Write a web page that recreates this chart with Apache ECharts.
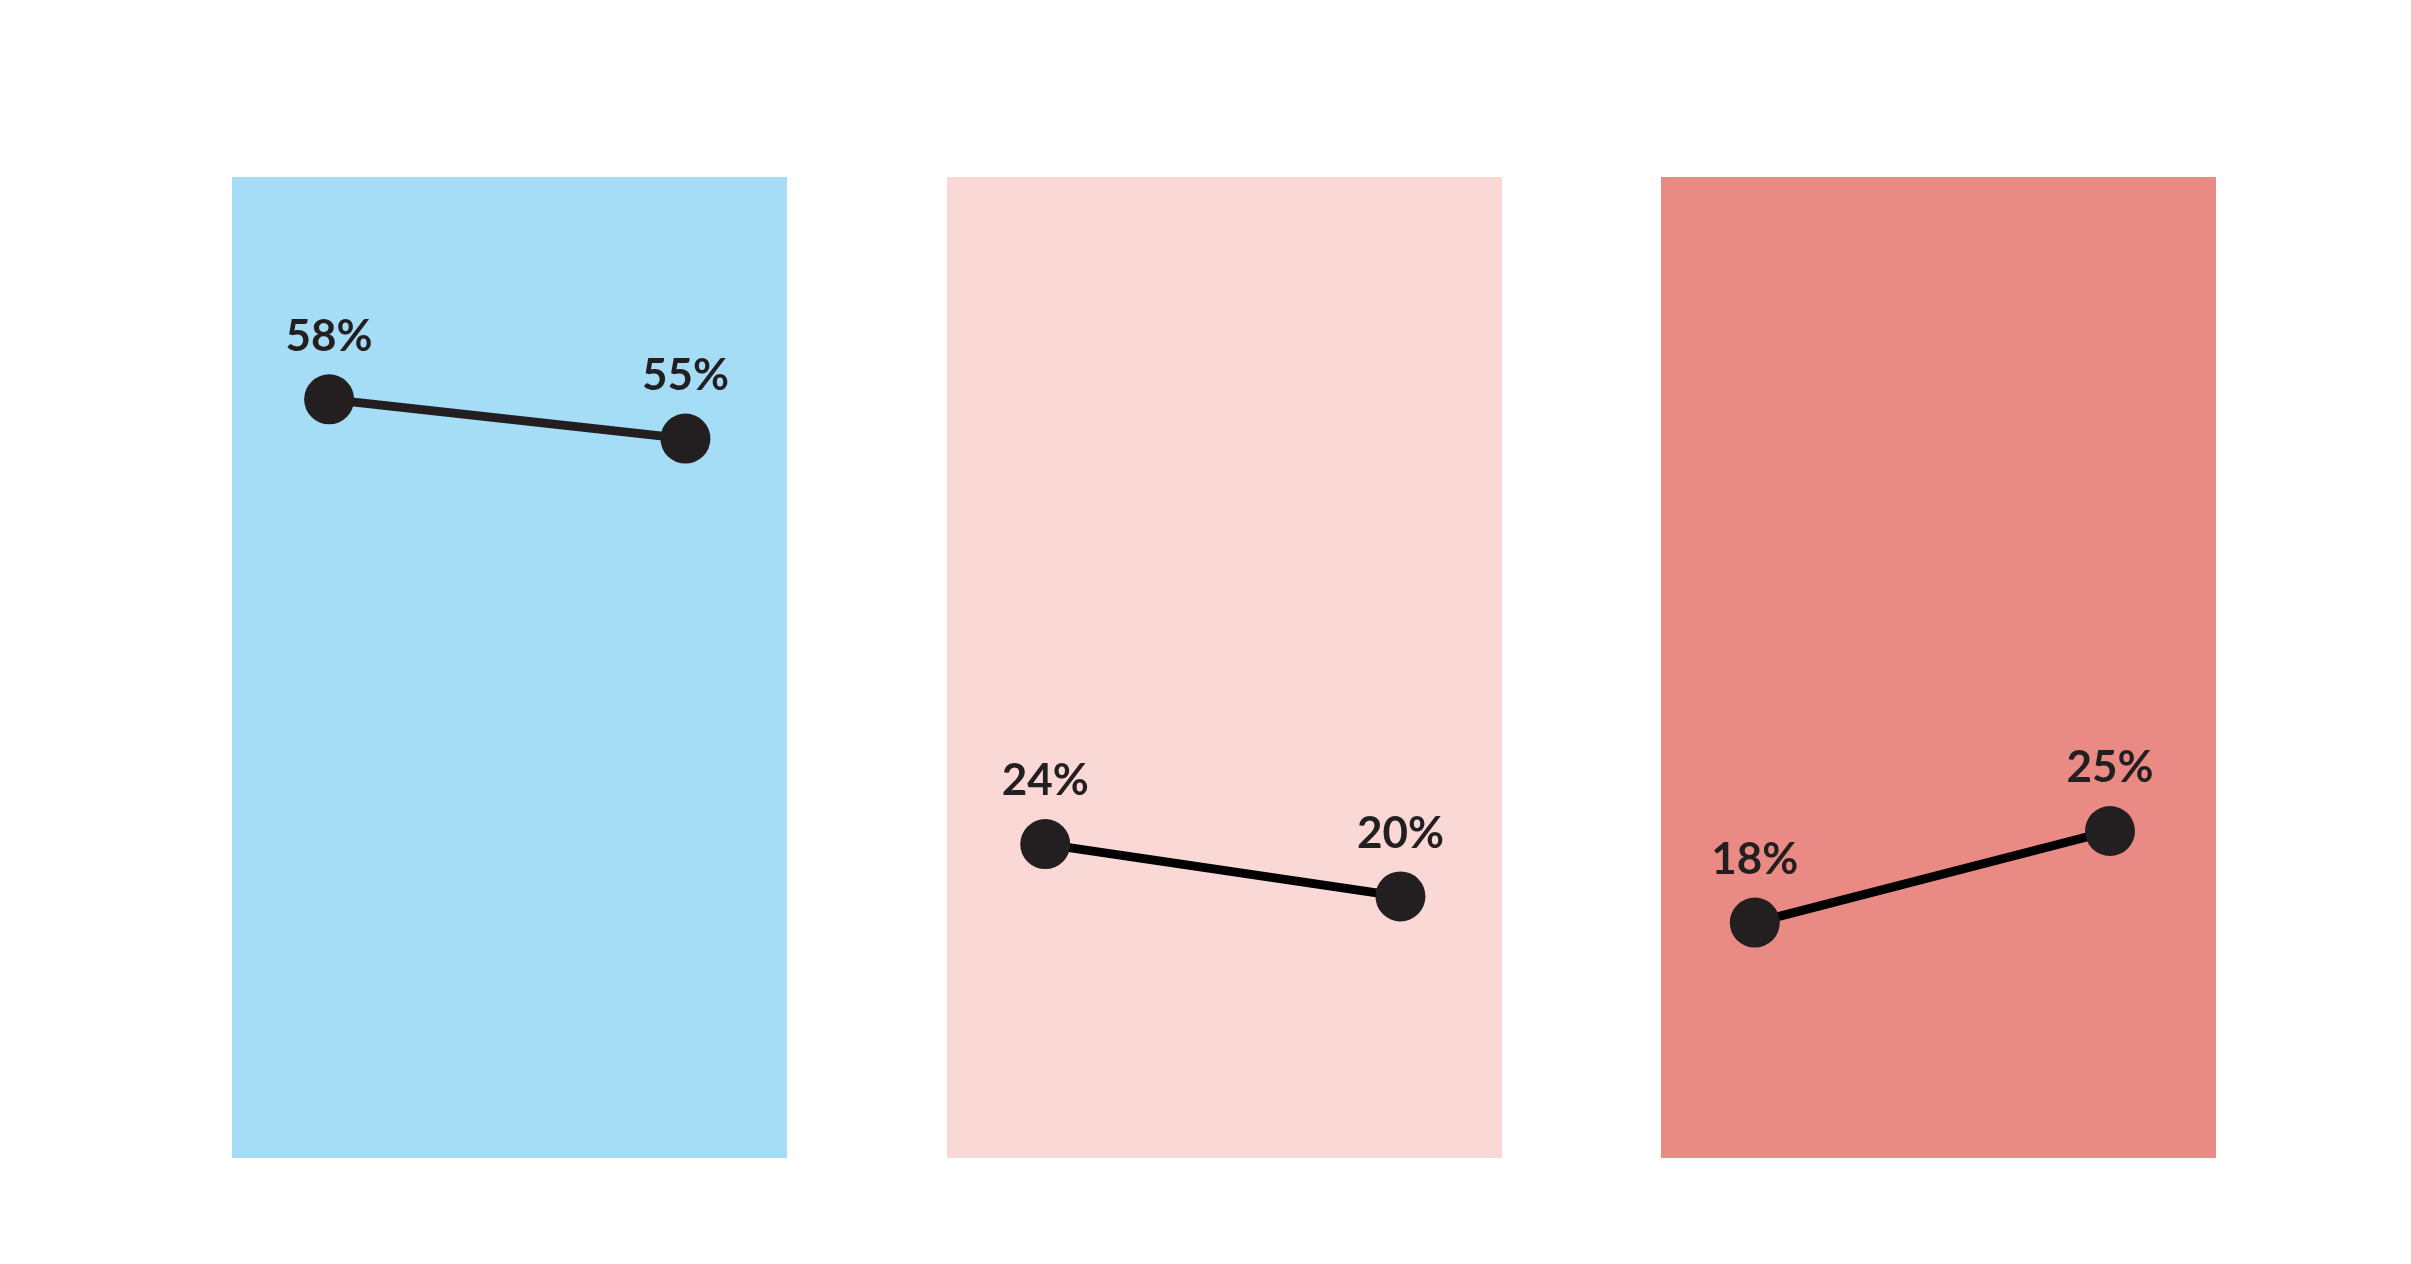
<!DOCTYPE html>
<html>
<head>
<meta charset="utf-8">
<script src="https://cdn.jsdelivr.net/npm/echarts@6/dist/echarts.min.js"></script>
<style>
  html, body { margin: 0; padding: 0; background: #fff; }
  #chart { width: 2411px; height: 1264px; }
</style>
</head>
<body>
<div id="chart"></div>
<script>
// values
var panelColors = ['#a5ddf7', '#f9d8d6', '#e98a85'];
var lineColors = ['#231f20', '#000000', '#000000'];
var startValues = [58, 24, 18];
var endValues = [55, 20, 25];
var startPos = [0.175, 0.177, 0.169];
var endPos = [0.817, 0.817, 0.809];

var chart = echarts.init(document.getElementById('chart'));
var gridLefts = [232, 947, 1661];
var grids = [], xAxes = [], yAxes = [], series = [];

for (var i = 0; i < 3; i++) {
    grids.push({
        left: gridLefts[i], top: 177, width: 555, height: 981,
        show: true, backgroundColor: panelColors[i], borderWidth: 0
    });
    xAxes.push({ gridIndex: i, type: 'value', min: 0, max: 1, show: false });
    yAxes.push({ gridIndex: i, type: 'value', min: 0, max: 75, show: false });
    series.push({
        type: 'line',
        xAxisIndex: i, yAxisIndex: i,
        data: [[startPos[i], startValues[i]], [endPos[i], endValues[i]]],
        symbol: 'circle',
        symbolSize: 50,
        itemStyle: { color: '#231f20' },
        lineStyle: { color: lineColors[i], width: 9 },
        label: {
            show: true, position: 'top', distance: 16,
            formatter: function (p) { return p.value[1] + '%'; },
            fontFamily: 'Lato', fontWeight: 'bold', fontSize: 44, color: '#231f20'
        },
        animation: false
    });
}

chart.setOption({
    animation: false,
    grid: grids,
    xAxis: xAxes,
    yAxis: yAxes,
    series: series
});
</script>
</body>
</html>
